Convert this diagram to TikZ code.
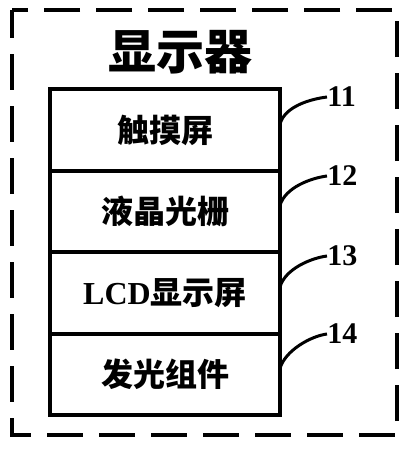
\documentclass[tikz,border=0pt]{standalone}
\usepackage{fontspec}
\setmainfont{Liberation Serif}
\newfontfamily\cjk{Noto Sans CJK SC}
\usetikzlibrary{positioning}

\begin{document}
\begin{tikzpicture}[
    x=0.5pt, y=-0.5pt,
    font=\cjk\bfseries\fontsize{16}{19}\selectfont,
    layer/.style={draw, line width=2pt, minimum width=115pt, minimum height=40.75pt, inner sep=0pt, outer sep=0pt, align=center},
    num/.style={anchor=west, inner sep=0pt, font=\rmfamily\bfseries\fontsize{15}{18}\selectfont},
    lead/.style={line width=1.5pt}
]
  \useasboundingbox (0,0) rectangle (407,450);

  % ===== marco exterior =====
  \draw[line width=2pt, dash pattern=on 18pt off 8pt, dash phase=4pt] (12,10) rectangle (397,435);
  \node[font=\cjk\bfseries\fontsize{24}{28}\selectfont] (title) at (180,52) {显示器};

  % ===== capas =====
  \node[layer] (touch) at (165,130) {触摸屏};
  \node[layer, below=0pt of touch] (grating) {液晶光栅};
  \node[layer, below=0pt of grating] (lcd) {{\rmfamily\bfseries LCD}显示屏};
  \node[layer, below=0pt of lcd] (light) {发光组件};

  % ===== referencias =====
  \foreach \b/\n/\y in {touch/11/97, grating/12/176, lcd/13/256, light/14/334} {
    \node[num] (n\n) at (327,\y) {\n};
    \coordinate (c\n) at ([yshift=3pt]\b.east);
    \draw[lead] (c\n) .. controls +(5,-18) and +(-16,2) .. (n\n.west);
  }
\end{tikzpicture}
\end{document}
